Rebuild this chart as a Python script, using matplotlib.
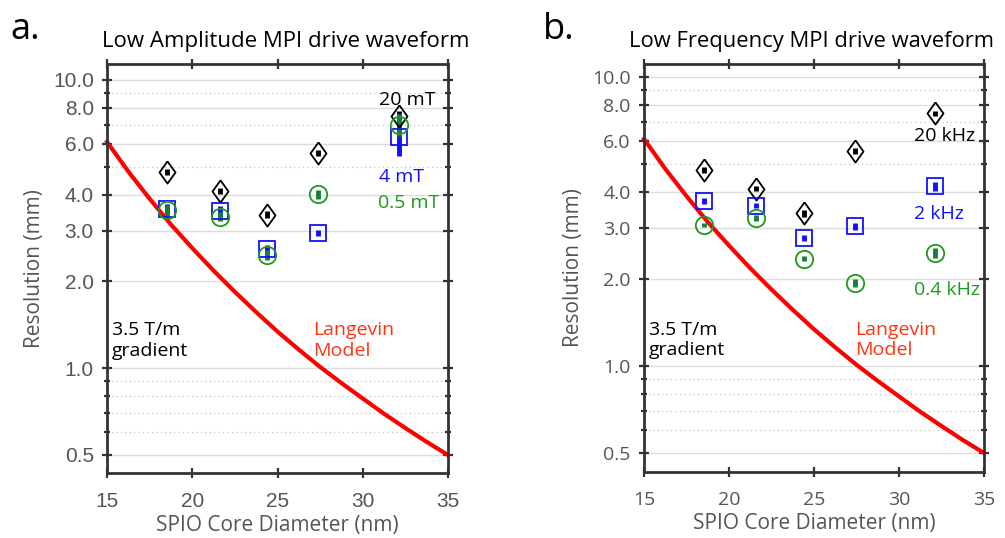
import numpy as np
import matplotlib.pyplot as plt
from matplotlib.ticker import FixedLocator, NullFormatter

plt.rcParams['font.family'] = ['Open Sans', 'DejaVu Sans']

# core diameters (nm)
diam = [18.5, 21.6, 24.4, 27.4, 32.1]

# panel a: low amplitude (mm)
amp_20mT = [4.80, 4.13, 3.41, 5.59, 7.52]
amp_20mT_err = [0.12, 0.10, 0.09, 0.13, 0.30]
amp_4mT = [3.56, 3.50, 2.60, 2.94, 6.32]
amp_4mT_err_lo = [0.14, 0.14, 0.08, 0.07, 0.89]
amp_4mT_err_hi = [0.14, 0.14, 0.08, 0.07, 1.38]
amp_05mT = [3.53, 3.36, 2.47, 4.02, 7.00]
amp_05mT_err = [0.15, 0.12, 0.10, 0.14, 0.60]

# panel b: low frequency (mm)
frq_20k = [4.77, 4.11, 3.38, 5.55, 7.49]
frq_20k_err = [0.10, 0.09, 0.09, 0.12, 0.16]
frq_2k = [3.72, 3.59, 2.77, 3.04, 4.18]
frq_2k_err = [0.08, 0.08, 0.07, 0.09, 0.16]
frq_04k = [3.07, 3.26, 2.35, 1.94, 2.47]
frq_04k_err = [0.05, 0.08, 0.05, 0.06, 0.10]

# Langevin model curve
lang_d = [15, 16.25, 17.5, 18.75, 20, 21.25, 22.5, 23.75, 25, 26.25, 27.5, 28.75, 30, 31.25, 32.5, 33.75, 35]
lang_r = [6.10, 4.81, 3.87, 3.15, 2.61, 2.18, 1.84, 1.565, 1.34, 1.16, 1.01, 0.888, 0.785, 0.695, 0.620, 0.555, 0.500]

major_y = [0.5, 1.0, 2.0, 3.0, 4.0, 6.0, 8.0, 10.0]
minor_y = [0.6, 0.7, 0.8, 0.9, 5.0, 7.0, 9.0]
x_ticks = [15, 20, 25, 30, 35]

blue = '#1010ff'
green = '#1e9a1e'
dgreen = '#15803a'
gray = '#555555'

# tall diamond like the original
diamond = [(0, 1), (0.72, 0), (0, -1), (-0.72, 0), (0, 1)]

fig = plt.figure(figsize=(10.05, 5.38), dpi=100)
ax1 = fig.add_axes([0.1065, 0.1208, 0.3393, 0.7602])
ax2 = fig.add_axes([0.6408, 0.1227, 0.3383, 0.7584])


def setup(ax, ylim, tickfont, ticksize):
    ax.set_yscale('log')
    ax.set_xlim(15, 35)
    ax.set_ylim(*ylim)
    ax.yaxis.set_major_locator(FixedLocator(major_y))
    ax.yaxis.set_minor_locator(FixedLocator(minor_y))
    ax.yaxis.set_minor_formatter(NullFormatter())
    ax.set_yticklabels(['%.1f' % v for v in major_y])
    ax.set_xticks(x_ticks)
    ax.grid(True, which='major', axis='y', color='#dddddd', lw=1.0)
    ax.grid(True, which='minor', axis='y', color='#bbbbbb', lw=0.8, ls=(0, (1, 3)))
    ax.set_axisbelow(True)
    ax.tick_params(which='both', direction='inout', top=True, right=True,
                   width=1.6, colors='#333333', labelcolor=gray, labelsize=ticksize)
    ax.tick_params(which='major', length=7)
    ax.tick_params(axis='y', which='major', pad=6)
    ax.tick_params(axis='x', which='major', pad=10)
    ax.tick_params(which='minor', length=5)
    for lab in ax.get_xticklabels() + ax.get_yticklabels():
        lab.set_family(tickfont)
    for s in ax.spines.values():
        s.set_linewidth(2)
        s.set_color('#333333')
    ax.set_xlabel('SPIO Core Diameter (nm)', fontsize=15, color=gray, labelpad=3)
    ax.set_ylabel('Resolution (mm)', fontsize=15, color=gray, labelpad=6)
    ax.plot(lang_d, lang_r, color='#ff0000', lw=3, clip_on=False, zorder=2)


def series(ax, y, err, mk, col, barcol, ms):
    ax.errorbar(diam, y, yerr=err, fmt='none', ecolor=barcol, elinewidth=3.5,
                capsize=0, zorder=3)
    ax.plot(diam, y, ls='none', marker=mk, mfc='none', mec=col, mew=1.3, ms=ms, zorder=4)


setup(ax1, (0.433, 11.36), ['Liberation Sans', 'DejaVu Sans'], 15)
series(ax1, amp_20mT, amp_20mT_err, diamond, 'black', 'black', 16)
series(ax1, amp_4mT, [amp_4mT_err_lo, amp_4mT_err_hi], 's', blue, blue, 11)
series(ax1, amp_05mT, amp_05mT_err, 'o', green, dgreen, 12.5)
ax1.set_title('Low Amplitude MPI drive waveform', fontsize=16, pad=12, x=0.525)
ax1.text(32.6, 8.5, '20 mT', fontsize=14, ha='center', va='center', color='black')
ax1.text(32.3, 4.62, '4 mT', fontsize=14, ha='center', va='center', color=blue)
ax1.text(32.7, 3.75, '0.5 mT', fontsize=14, ha='center', va='center', color=green)
ax1.text(15.3, 1.25, '3.5 T/m\ngradient', fontsize=14, ha='left', va='center', linespacing=1.2)
ax1.text(27.1, 1.25, 'Langevin\nModel', fontsize=14, ha='left', va='center', color='#ff3311', linespacing=1.2)

setup(ax2, (0.430, 11.09), ['Open Sans', 'DejaVu Sans'], 14)
series(ax2, frq_20k, frq_20k_err, diamond, 'black', 'black', 16)
series(ax2, frq_2k, frq_2k_err, 's', blue, blue, 11)
series(ax2, frq_04k, frq_04k_err, 'o', green, dgreen, 12.5)
ax2.set_title('Low Frequency MPI drive waveform', fontsize=15.8, pad=12, loc='left', x=-0.045)
ax2.text(32.7, 6.26, '20 kHz', fontsize=14, ha='center', va='center', color='black')
ax2.text(32.35, 3.35, '2 kHz', fontsize=14, ha='center', va='center', color=blue)
ax2.text(32.85, 1.83, '0.4 kHz', fontsize=14, ha='center', va='center', color=green)
ax2.text(15.3, 1.23, '3.5 T/m\ngradient', fontsize=14, ha='left', va='center', linespacing=1.2)
ax2.text(27.4, 1.23, 'Langevin\nModel', fontsize=14, ha='left', va='center', color='#ff3311', linespacing=1.2)

fig.text(0.010, 0.945, 'a.', fontsize=26, va='center')
fig.text(0.540, 0.945, 'b.', fontsize=26, va='center')

fig.savefig('out.png', dpi=100)
